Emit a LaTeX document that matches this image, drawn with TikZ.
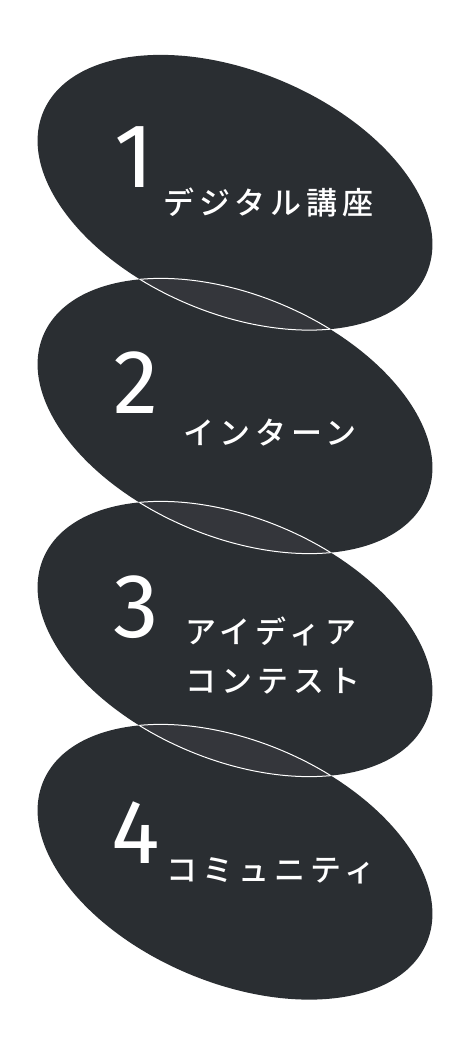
\documentclass[tikz,border=0pt]{standalone}
\usepackage{fontspec}
\usepackage{tikz}
\usepackage{xcolor}
\newfontfamily\jpfont{Noto Sans CJK JP}[UprightFont={* Medium},LetterSpace=16]
\newfontfamily\numfont{Fira Sans}
\definecolor{blobgray}{RGB}{42,46,50}
\definecolor{lensgray}{RGB}{52,54,59}

\begin{document}
\begin{tikzpicture}[x=1pt,y=-1pt]
    \tikzset{Blob/.style={%
            fill=blobgray,%
            rotate around={-22.8:(235,#1)},%
        },%
        Rim/.style={%
            draw=white,%
            line width=1pt,%
            rotate around={-22.8:(235,#1)},%
        },%
        Digit/.style={%
            text=white,%
            inner sep=0pt,%
            anchor=base west,%
            font=\numfont\fontsize{91}{91}\selectfont,%
        },%
        Label/.style={%
            text=white,%
            inner sep=0pt,%
            anchor=west,%
            align=left,%
            font=\jpfont\fontsize{31}{49}\selectfont,%
        }}

    \useasboundingbox (0,0) rectangle (470,1056);

    % the four tilted ellipses
    \foreach \cy in {192.5,416,639,862}
        \fill[Blob=\cy] (235,\cy) ellipse [x radius=208, y radius=121];

    % overlaps between neighbours
    \foreach \cy/\dy in {192.5/416,416/639,639/862}{
        \begin{scope}
            \clip[rotate around={-22.8:(235,\cy)}] (235,\cy) ellipse [x radius=208, y radius=121];
            \fill[Blob=\dy, fill=lensgray] (235,\dy) ellipse [x radius=208, y radius=121];
            \draw[Rim=\dy] (235,\dy) ellipse [x radius=208, y radius=121];
        \end{scope}
        \begin{scope}
            \clip[rotate around={-22.8:(235,\dy)}] (235,\dy) ellipse [x radius=208, y radius=121];
            \draw[Rim=\cy] (235,\cy) ellipse [x radius=208, y radius=121];
        \end{scope}
    }

    \node[Digit] (one) at (114,188) {1};
    \node[Digit] (two) at (113,413) {2};
    \node[Digit] (three) at (113,637) {3};
    \node[Digit] (four) at (111,863) {4};

    \node[Label] (digital) at (163,202.5) {デジタル講座};
    \node[Label] (intern) at (183,433) {インターン};
    \node[Label] (idea) at (185,656) {アイディア\\コンテスト};
    \node[Label] (community) at (166,871) {コミュニティ};
\end{tikzpicture}
\end{document}
